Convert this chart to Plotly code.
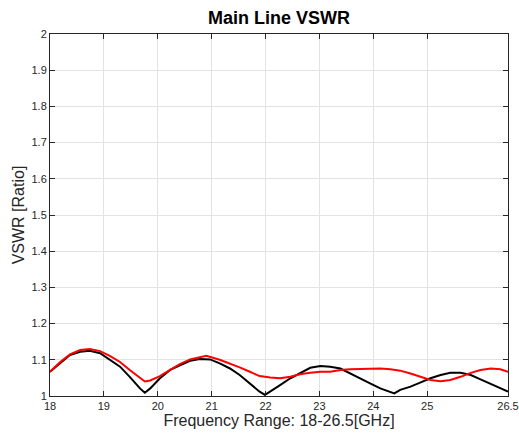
import plotly.graph_objects as go

freq_black = [18.0, 18.19, 18.37, 18.56, 18.74, 18.93, 19.11, 19.30, 19.48, 19.67, 19.76, 19.86,
              20.04, 20.23, 20.41, 20.60, 20.78, 20.97, 21.15, 21.34, 21.52, 21.71, 21.89, 21.99,
              22.09, 22.27, 22.46, 22.64, 22.83, 23.02, 23.20, 23.39, 23.57, 23.76, 23.94, 24.13,
              24.32, 24.39, 24.50, 24.69, 24.87, 25.06, 25.25, 25.43, 25.62, 25.81, 25.99, 26.18,
              26.36, 26.5]
vswr_black = [1.067, 1.092, 1.113, 1.122, 1.125, 1.118, 1.101, 1.081, 1.053, 1.021, 1.009, 1.021,
              1.049, 1.072, 1.085, 1.097, 1.102, 1.101, 1.090, 1.076, 1.058, 1.035, 1.012, 1.003,
              1.012, 1.030, 1.049, 1.064, 1.078, 1.083, 1.081, 1.076, 1.062, 1.049, 1.035, 1.021,
              1.012, 1.007, 1.017, 1.026, 1.037, 1.049, 1.058, 1.064, 1.064, 1.058, 1.046, 1.033,
              1.021, 1.012]

freq_red = [18.0, 18.19, 18.37, 18.56, 18.74, 18.93, 19.11, 19.30, 19.48, 19.67, 19.76, 19.86,
            20.04, 20.23, 20.41, 20.60, 20.78, 20.90, 21.15, 21.34, 21.52, 21.71, 21.89, 22.09,
            22.27, 22.46, 22.64, 22.83, 23.02, 23.20, 23.39, 23.57, 23.76, 23.94, 24.13, 24.32,
            24.50, 24.69, 24.87, 25.06, 25.25, 25.43, 25.62, 25.81, 25.99, 26.18, 26.36, 26.5]
vswr_red = [1.067, 1.094, 1.115, 1.127, 1.130, 1.124, 1.111, 1.094, 1.072, 1.049, 1.040, 1.043,
            1.055, 1.072, 1.088, 1.101, 1.107, 1.111, 1.100, 1.090, 1.079, 1.067, 1.055, 1.051,
            1.049, 1.053, 1.060, 1.064, 1.067, 1.067, 1.072, 1.074, 1.075, 1.076, 1.076, 1.074,
            1.070, 1.062, 1.053, 1.044, 1.041, 1.044, 1.053, 1.064, 1.072, 1.076, 1.074, 1.067]

x_ticks = [18, 19, 20, 21, 22, 23, 24, 25, 26.5]
x_tick_labels = ["18", "19", "20", "21", "22", "23", "24", "25", "26.5"]
y_ticks = [1, 1.1, 1.2, 1.3, 1.4, 1.5, 1.6, 1.7, 1.8, 1.9, 2]
y_tick_labels = ["1", "1.1", "1.2", "1.3", "1.4", "1.5", "1.6", "1.7", "1.8", "1.9", "2"]

font_family = "Liberation Sans, Arial, Helvetica, sans-serif"
axis_color = "#262626"

fig = go.Figure()
fig.add_trace(go.Scatter(x=freq_black, y=vswr_black, mode="lines",
                         line=dict(color="black", width=2), showlegend=False))
fig.add_trace(go.Scatter(x=freq_red, y=vswr_red, mode="lines",
                         line=dict(color="red", width=2), showlegend=False))

axis_common = dict(showline=True, linecolor=axis_color, linewidth=1, mirror="ticks",
                   ticks="inside", ticklen=5, tickcolor=axis_color, automargin=False,
                   showgrid=True, gridcolor="#e3e3e3", gridwidth=1, zeroline=False,
                   tickfont=dict(family=font_family, size=11, color=axis_color))

fig.update_xaxes(range=[18, 26.5], tickvals=x_ticks, ticktext=x_tick_labels,
                 title=dict(text="Frequency Range: 18-26.5[GHz]",
                            font=dict(family=font_family, size=16, color=axis_color),
                            standoff=0),
                 **axis_common)
fig.update_yaxes(range=[1, 2], tickvals=y_ticks, ticktext=y_tick_labels,
                 title=dict(text="VSWR [Ratio]",
                            font=dict(family=font_family, size=16, color=axis_color),
                            standoff=2),
                 **axis_common)

fig.update_layout(
    width=519, height=435,
    margin=dict(l=50, r=11, t=34, b=39),
    paper_bgcolor="white", plot_bgcolor="white",
    title=dict(text="<b>Main Line VSWR</b>", x=(50 + 508) / 2 / 519, xanchor="center",
               y=1 - 18 / 435, yanchor="middle",
               font=dict(family=font_family, size=18, color="black")),
)

fig.write_html("out.html", config={"displayModeBar": False},
               post_script="document.body.style.margin='0';document.body.style.overflow='hidden';")
